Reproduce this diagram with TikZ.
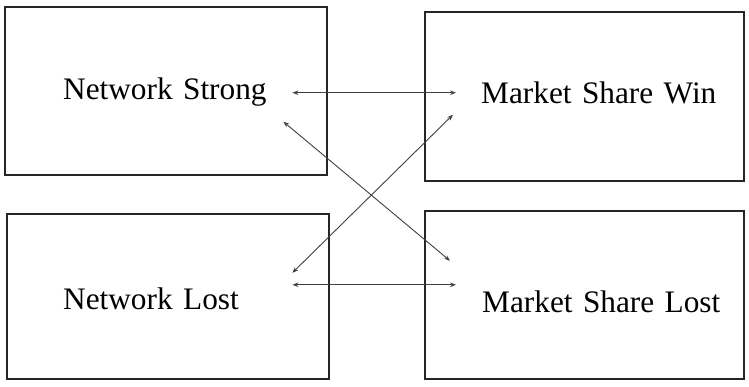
\documentclass[tikz,border=0pt]{standalone}
\usepackage{fontspec}
\setmainfont{Liberation Serif}
\usetikzlibrary{arrows.meta, positioning}

\begin{document}
\begin{tikzpicture}[
        x=1pt, y=1pt,
        font=\fontsize{31.3}{36}\selectfont,
        box/.style={draw=black!85, line width=1.8pt, minimum width=#1, inner sep=0pt},
        lbl/.style={anchor=base west, text=black, inner xsep=25pt, inner ysep=3.5pt,
            text height=21.5pt, text depth=7pt, align=left},
        arr/.style={{Stealth[length=6pt,width=4.5pt]}-{Stealth[length=6pt,width=4.5pt]}, line width=0.9pt, black!75}
    ]
        \useasboundingbox (0,0) rectangle (749,387);

        % four boxes
        \node[box=322pt, minimum height=168pt] (strongbox) at (166,296)   {};
        \node[box=319pt, minimum height=169pt] (winbox)    at (584.5,290.5) {};
        \node[box=322pt, minimum height=165pt] (lostbox)   at (168,90.5)  {};
        \node[box=319pt, minimum height=168pt] (sharebox)  at (584.5,92)  {};

        % labels
        \node[lbl, text width=204pt] (strong)    at (38,287)  {Network Strong};
        \node[lbl, text width=245pt] (win)       at (456,283) {Market Share Win};
        \node[lbl, text width=204pt] (netlost)   at (38,77)   {Network Lost};
        \node[lbl, text width=245pt] (sharelost) at (457,74)  {Market Share Lost};

        \draw[arr] (strong.east) -- (strong.east -| win.west);
        \draw[arr] (netlost.north east) -- (netlost.north east -| win.west);
        \draw[arr] ([shift={(-9pt,-11pt)}]strong.south east) -- ([shift={(-7pt,27pt)}]sharelost.north west);
        \draw[arr] ([yshift=12pt]netlost.north east) -- ([xshift=-3pt]win.south west);
    \end{tikzpicture}
\end{document}
